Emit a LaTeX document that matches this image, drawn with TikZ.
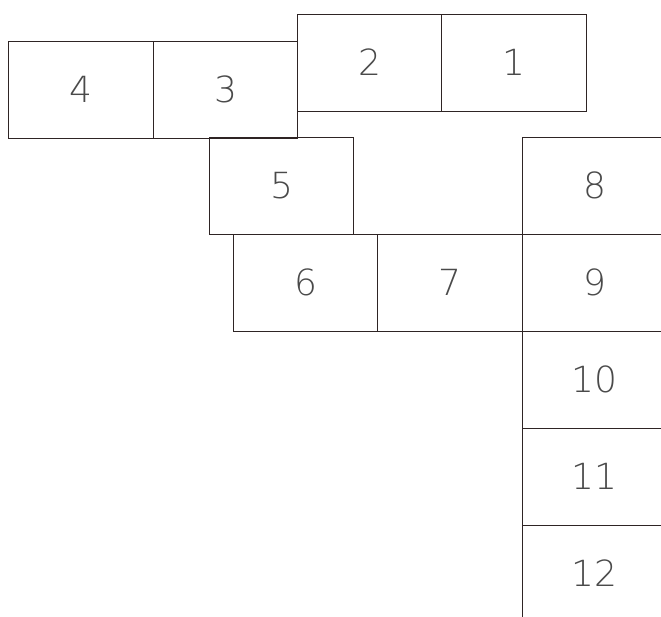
\documentclass[tikz,border=0pt]{standalone}
\usepackage{fontspec}
\newfontfamily\digitfont{DejaVu Sans ExtraLight}
\usetikzlibrary{positioning}
\definecolor{cline}{HTML}{2E2424}
\definecolor{ctext}{HTML}{4A4A4A}
\tikzset{
  every picture/.style={x=1pt, y=-1pt, line width=0.9pt},
  cell/.style={draw=cline, rectangle, minimum width=144.5pt, minimum height=97pt,
               inner sep=0pt, outer sep=0pt, text=ctext,
               font=\digitfont\fontsize{36}{40}\selectfont},
}

\begin{document}
\begin{tikzpicture}
  \useasboundingbox (0,0) rectangle (661,617);
  % top rows
  \node[cell] (c4) at (81,89.5) {4};
  \node[cell, right=0pt of c4] (c3) {3};
  \node[cell] (c2) at (369.5,62.5) {2};
  \node[cell, right=0pt of c2] (c1) {1};
  % middle
  \node[cell] (c5) at (281.5,185.5) {5};
  \node[cell] (c6) at (305.5,282.5) {6};
  \node[cell, right=0pt of c6] (c7) {7};
  % right column, runs off the page
  \node[cell] (c8) at (594.5,185.5) {8};
  \node[cell, below=0pt of c8] (c9) {9};
  \node[cell, below=0pt of c9] (c10) {10};
  \node[cell, below=0pt of c10] (c11) {11};
  \node[cell, below=0pt of c11] (c12) {12};
\end{tikzpicture}
\end{document}
